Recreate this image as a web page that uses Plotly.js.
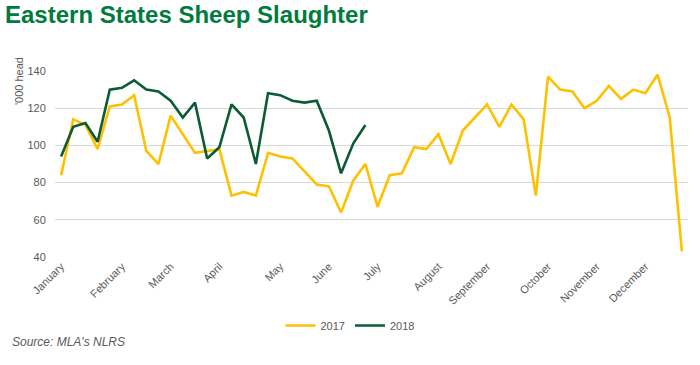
<!DOCTYPE html>
<html>
<head>
<meta charset="utf-8">
<script src="https://cdn.plot.ly/plotly-3.0.1.min.js"></script>
<style>
  html, body { margin: 0; padding: 0; background: #fff; }
  #chart { width: 700px; height: 365px; }
</style>
</head>
<body>
<div id="chart"></div>
<script>
// Week numbers (1..52)
const weeks2017 = Array.from({length: 52}, (_, i) => i + 1);
const weeks2018 = Array.from({length: 26}, (_, i) => i + 1);

// Weekly slaughter, '000 head
const values2017 = [84, 114, 111, 98, 121, 122, 127, 97, 90, 116,
  106, 96, 97, 98, 73, 75, 73, 96, 94, 93,
  86, 79, 78, 64, 81, 90, 67, 84, 85, 99,
  98, 106, 90, 108, 115, 122, 110, 122, 114, 73,
  137, 130, 129, 120, 124, 132, 125, 130, 128, 138,
  115, 43];
const values2018 = [94, 110, 112, 102, 130, 131, 135, 130, 129, 124,
  115, 123, 93, 99, 122, 115, 90, 128, 127, 124,
  123, 124, 108, 85, 101, 111];

// Month labels and the week they sit on
const monthWeeks = [1, 6, 10, 14, 19, 23, 27, 32, 36, 41, 45, 49];
const monthLabels = ["January", "February", "March", "April", "May", "June",
  "July", "August", "September", "October", "November", "December"];

const seriesNames = ["2017", "2018"];

const traces = [
  { x: weeks2017, y: values2017, name: seriesNames[0], type: "scatter", mode: "lines",
    line: { color: "#FFC000", width: 2.6 } },
  { x: weeks2018, y: values2018, name: seriesNames[1], type: "scatter", mode: "lines",
    line: { color: "#0B5B35", width: 2.6 } }
];

const tickFont = { family: "Liberation Sans, Arial, sans-serif", size: 11, color: "#595959" };

const layout = {
  width: 700, height: 365,
  margin: { l: 55, r: 12, t: 71, b: 108 },
  paper_bgcolor: "#ffffff", plot_bgcolor: "#ffffff",
  showlegend: true,
  title: {
    text: "Eastern States Sheep Slaughter",
    xref: "container", yref: "container",
    x: 5 / 700, xanchor: "left",
    y: 1 - 6 / 365, yanchor: "top",
    font: { family: "Liberation Sans Narrow, Arial Narrow, sans-serif", size: 24, weight: 700, color: "#007A3D" }
  },
  xaxis: {
    range: [0.5, 52.5],
    tickmode: "array", tickvals: monthWeeks, ticktext: monthLabels,
    tickangle: -45, tickfont: tickFont,
    showgrid: false, zeroline: false, showline: false, ticks: ""
  },
  yaxis: {
    range: [40, 140], dtick: 20, tick0: 40,
    tickfont: tickFont, gridcolor: "#D9D9D9", gridwidth: 1,
    zeroline: false, showline: false,
    ticks: "outside", ticklen: 6, tickcolor: "rgba(0,0,0,0)"
  },
  legend: {
    orientation: "h", x: 0.5, xanchor: "center", xref: "container",
    y: 1 - 311 / 365, yanchor: "top", yref: "container",
    font: { family: "Liberation Sans, Arial, sans-serif", size: 11, color: "#595959" },
    itemwidth: 30, tracegroupgap: 0
  },
  annotations: [
    { text: "'000 head", xref: "paper", yref: "paper",
      x: (19 - 55) / 633, y: (256.7 - 81) / 185.7, xanchor: "center", yanchor: "middle",
      textangle: -90, showarrow: false,
      font: { family: "Liberation Sans, Arial, sans-serif", size: 11, color: "#595959" } },
    { text: "<i>Source: MLA's NLRS</i>", xref: "paper", yref: "paper",
      x: (10 - 55) / 633, y: (256.7 - 342) / 185.7, xanchor: "left", yanchor: "middle",
      showarrow: false,
      font: { family: "Liberation Sans, Arial, sans-serif", size: 12, color: "#595959" } }
  ]
};

Plotly.newPlot("chart", traces, layout, { displayModeBar: false, staticPlot: true });
</script>
</body>
</html>
